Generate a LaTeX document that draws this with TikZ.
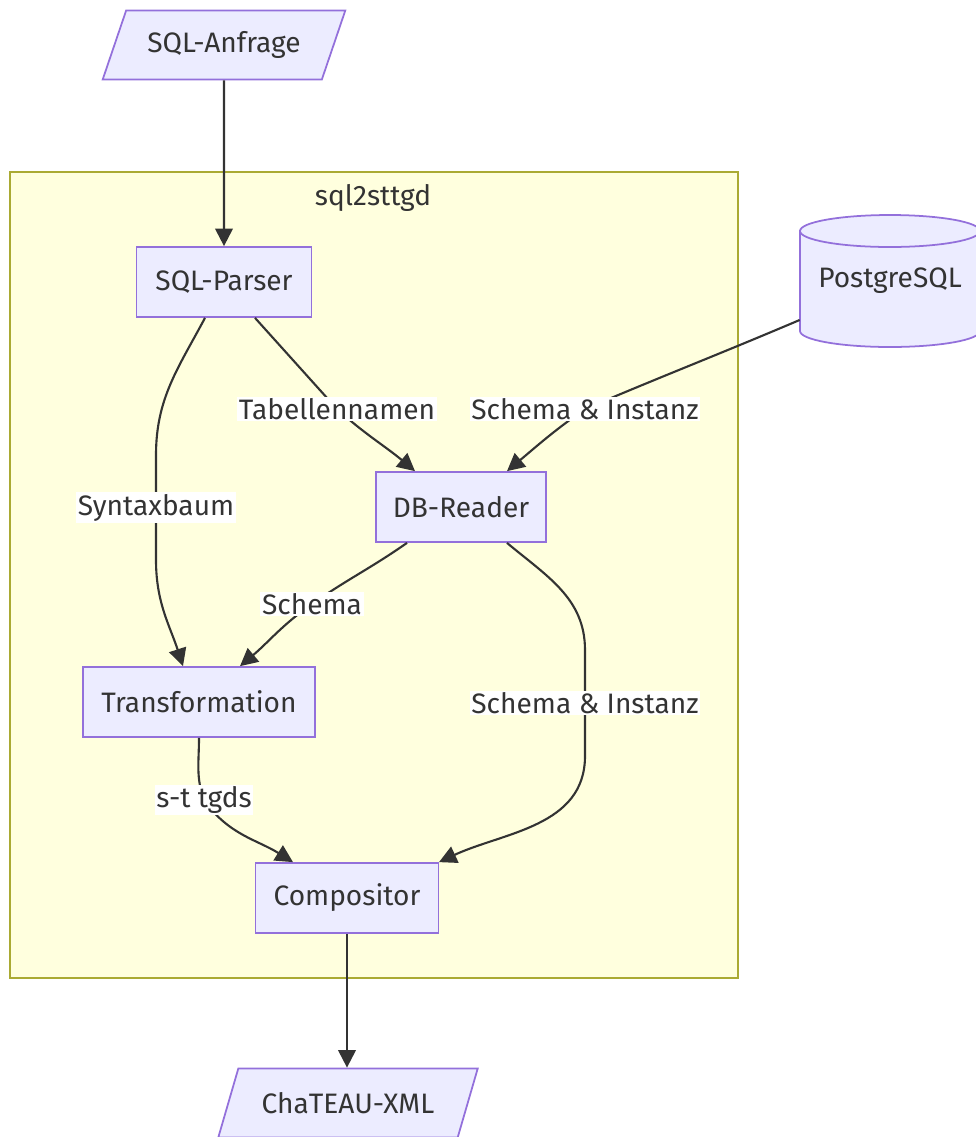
\documentclass[tikz,border=0pt]{standalone}
\usepackage{fontspec}
\setmainfont{Fira Sans}
\usetikzlibrary{arrows.meta,shapes.geometric,backgrounds,positioning}
\definecolor{nodefill}{HTML}{ECECFF}
\definecolor{nodeline}{HTML}{9370DB}
\definecolor{clusterfill}{HTML}{FFFFDE}
\definecolor{clusterline}{HTML}{AAAA33}
\definecolor{edgecol}{HTML}{333333}
\begin{document}
\begin{tikzpicture}[
        x=0.02cm, y=-0.02cm,
        font=\fontsize{16}{19}\selectfont,
        text=edgecol
    ]
    \tikzset{
        proc/.style = {rectangle, draw=nodeline, fill=nodefill, line width=1pt, minimum height=1.4cm, inner xsep=0.2cm},
        iobox/.style = {trapezium, trapezium left angle=63, trapezium right angle=117, trapezium stretches=true, draw=nodeline, fill=nodefill, line width=1pt, minimum height=1.38cm},
        dbtext/.style = {minimum width=3.6cm, minimum height=2.64cm},
        edge/.style = {draw=edgecol, line width=1.2pt, -{Triangle[length=10pt,width=10pt]}},
        lbl/.style = {fill=white, inner sep=1pt},
    }
    \useasboundingbox (0,0) rectangle (976,1137);
    \node[iobox, minimum width=4.86cm] at (224,45) (req) {SQL-Anfrage};
    \node[proc, minimum width=3.5cm] at (224,282) (sp) {SQL-Parser};
    \node[dbtext] at (890,281) (pg) {PostgreSQL};
    \node[proc, minimum width=3.4cm] at (461,507) (db) {DB-Reader};
    \node[proc, minimum width=4.64cm] at (199,702) (tr) {Transformation};
    \node[proc, minimum width=3.66cm] at (347,898) (comp) {Compositor};
    \node[iobox, minimum width=5.2cm] at (348,1103) (xml) {ChaTEAU-XML};
    \node at (373,198) (title) {sql2sttgd};
    %
    \begin{pgfonlayer}{background}
    \draw[clusterline, fill=clusterfill, line width=0.8pt] (10,172) rectangle (738,978);
    \draw[nodeline, fill=nodefill, line width=1pt] (800,231) -- (800,331) arc (180:360:1.8cm and 0.32cm) -- (980,231) arc (0:180:1.8cm and 0.32cm) -- cycle;
    \draw[nodeline, line width=1pt] (800,231) arc (180:360:1.8cm and 0.32cm);
    \end{pgfonlayer}
    %
    \draw[edge] (req) -- (sp);
    \draw[edge] ([xshift=-0.38cm]sp.south) to[out=-118,in=90] (156,455) -- node[lbl]{Syntaxbaum} (156,560) to[out=-90,in=108] ([xshift=-0.32cm]tr.north);
    \draw[edge] ([xshift=0.62cm]sp.south) to[out=-48,in=132] (337,409) node[lbl]{Tabellennamen} to[out=-42,in=140] ([xshift=-0.92cm]db.north);
    \draw[edge] ([yshift=-0.78cm]pg.west) to[out=-157,in=23] (585,409) node[lbl]{Schema \& Instanz} to[out=-145,in=40] ([xshift=0.92cm]db.north);
    %
    \draw[edge] ([xshift=-1.08cm]db.south) to[out=-145,in=35] (312,604) node[lbl]{Schema} to[out=-145,in=40] ([xshift=0.82cm]tr.north);
    \draw[edge] ([xshift=0.92cm]db.south) to[out=-40,in=90] (585,650) -- node[lbl]{Schema \& Instanz} (585,756) to[out=-90,in=25] ([xshift=1.84cm]comp.north);
    \draw[edge] (tr.south) to[out=-90,in=110] (204,800) node[lbl]{s-t tgds} to[out=-55,in=148] ([xshift=-1.08cm]comp.north);
    \draw[edge] (comp) -- (comp |- xml.north);
\end{tikzpicture}
\end{document}
